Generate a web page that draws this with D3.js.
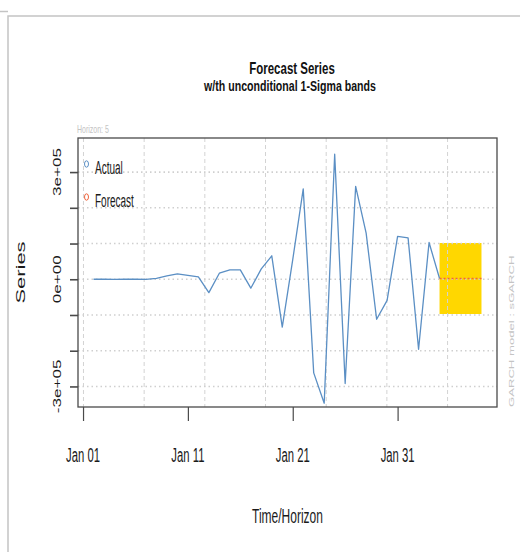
<!DOCTYPE html>
<html>
<head>
<meta charset="utf-8">
<script src="https://cdn.jsdelivr.net/npm/d3@7"></script>
<style>
  html, body { margin: 0; padding: 0; background: #fff; }
  svg { display: block; font-family: "Liberation Sans", Arial, Helvetica, sans-serif; }
</style>
</head>
<body>
<svg id="chart" width="520" height="552"></svg>
<script>
// ---- data -------------------------------------------------------------
// Daily series starting 2 Jan, then a 5-step-ahead forecast
const seriesStart = "2021-01-02";
const actualValues = [
  0, 300, -200, 400, 100, -300, 2400, 9400, 15000, 10800,
  6600, -37500, 17000, 26300, 26300, -25000, 29000, 65700, -134000, 55000,
  253000, -262000, -347000, 350000, -292000, 260000, 129000, -112000, -59000, 120000,
  116000, -196000, 103000
];
const forecastValues = [2000, 2000, 2000, 2000, 2000];
const forecastSigma  = [99500, 99500, 99500, 99500, 99500];
const horizon = 5;
const modelName = "sGARCH";

const xTickDates  = ["2021-01-01", "2021-01-11", "2021-01-21", "2021-01-31"];
const yTickValues = [-300000, -200000, -100000, 0, 100000, 200000, 300000];
const yLabelValues = [-300000, 0, 300000];
const yLabelTexts  = ["-3e+05", "0e+00", "3e+05"];
const legendLabels = ["Actual", "Forecast"];
const gridStepSeconds = 500000;

// ---- layout -----------------------------------------------------------
const box = { left: 78, top: 138, right: 497, bottom: 407 };
const DAY = 86400000;
const svg = d3.select("#chart");

const t0 = new Date(seriesStart + "T00:00:00Z");
const actual = actualValues.map((v, i) => ({ date: new Date(+t0 + i * DAY), value: v }));
const lastActual = actual[actual.length - 1].date;
const forecast = forecastValues.map((v, i) => ({
  date: new Date(+lastActual + (i + 1) * DAY), value: v, sigma: forecastSigma[i]
}));

// x: time with 4% padding each side
const xExt = [actual[0].date, forecast[forecast.length - 1].date];
const xPad = (xExt[1] - xExt[0]) * 0.04;
const x = d3.scaleUtc()
  .domain([new Date(+xExt[0] - xPad), new Date(+xExt[1] + xPad)])
  .range([box.left, box.right]);

// y: limits widened by 5% at the ends, then padded 4%
const allVals = actualValues.concat(forecast.map(d => d.value + d.sigma), forecast.map(d => d.value - d.sigma));
const ylim = [d3.min(allVals) * 0.95, d3.max(allVals) * 1.05];
const yPad = (ylim[1] - ylim[0]) * 0.04;
const y = d3.scaleLinear()
  .domain([ylim[0] - yPad, ylim[1] + yPad])
  .range([box.bottom, box.top]);

// text with separate horizontal / vertical proportions
function label(sel, px, py, str, o) {
  const k = o.k || 1.72;
  return sel.append("text")
    .text(str)
    .attr("font-size", o.size)
    .attr("text-anchor", o.anchor || "middle")
    .attr("font-weight", o.weight || "normal")
    .attr("fill", o.fill || "#1a1a1a")
    .attr("transform", o.rotate
      ? `translate(${px},${py}) rotate(-90) scale(${k},1)`
      : `translate(${px},${py}) scale(1,${k})`);
}

// ---- page frame ---------------------------------------------------------
const frame = svg.append("g").attr("stroke", "#c4c4c4").attr("stroke-width", 1.5).attr("fill", "none");
frame.append("path").attr("d", "M8,552 V16 H520");
frame.append("path").attr("d", "M0,11.5 H8");

// ---- forecast band ------------------------------------------------------
svg.append("path")
  .datum(forecast)
  .attr("fill", "#FFD700")
  .attr("d", d3.area().x(d => x(d.date)).y0(d => y(d.value - d.sigma)).y1(d => y(d.value + d.sigma)));

// ---- grid -----------------------------------------------------------------
const grid = svg.append("g").attr("fill", "none");
const gridStart = new Date("2021-01-01T01:00:00Z");
const vGrid = d3.range(+gridStart, +x.domain()[1], gridStepSeconds * 1000).map(t => new Date(t));
grid.selectAll("line.v").data(vGrid).join("line")
  .attr("class", "v")
  .attr("x1", d => x(d)).attr("x2", d => x(d))
  .attr("y1", box.top).attr("y2", box.bottom)
  .attr("stroke", "#d3d3d3").attr("stroke-width", 1).attr("stroke-dasharray", "4,3");
grid.selectAll("line.h").data(yTickValues).join("line")
  .attr("class", "h")
  .attr("x1", box.left).attr("x2", box.right)
  .attr("y1", d => y(d)).attr("y2", d => y(d))
  .attr("stroke", "#cfcfcf").attr("stroke-width", 1.6).attr("stroke-dasharray", "1.5,3");

// ---- series ---------------------------------------------------------------
const line = d3.line().x(d => x(d.date)).y(d => y(d.value));
svg.append("path")
  .datum(actual.concat(forecast.slice(0, 1)))
  .attr("fill", "none").attr("stroke", "#5b8fc4").attr("stroke-width", 1.3)
  .attr("stroke-linejoin", "round")
  .attr("d", line);
svg.append("path")
  .datum(forecast)
  .attr("fill", "none").attr("stroke", "#f0643c").attr("stroke-width", 1.4)
  .attr("stroke-dasharray", "2,2")
  .attr("d", line);

// ---- box and axes -----------------------------------------------------------
svg.append("rect")
  .attr("x", box.left).attr("y", box.top)
  .attr("width", box.right - box.left).attr("height", box.bottom - box.top)
  .attr("fill", "none").attr("stroke", "#4a4a4a").attr("stroke-width", 1.3);

const xTicks = xTickDates.map(s => new Date(s + "T00:00:00Z"));
const xAxis = svg.append("g")
  .attr("transform", `translate(0,${box.bottom})`)
  .call(d3.axisBottom(x).tickValues(xTicks).tickSize(14).tickFormat(""));
xAxis.select(".domain").remove();
xAxis.selectAll("line").attr("stroke", "#4a4a4a").attr("stroke-width", 1.2);
xTicks.forEach(d => label(svg, x(d), 461.5, d3.utcFormat("%b %d")(d), { size: 11.3, k: 1.73 }));

const yAxis = svg.append("g")
  .attr("transform", `translate(${box.left},0)`)
  .call(d3.axisLeft(y).tickValues(yTickValues).tickSize(8).tickFormat(""));
yAxis.select(".domain").remove();
yAxis.selectAll("line").attr("stroke", "#4a4a4a").attr("stroke-width", 1.6);
yLabelValues.forEach((v, i) => label(svg, 60.5, y(v), yLabelTexts[i], { size: 10.5, k: 1.63, rotate: true }));

// ---- titles -------------------------------------------------------------------
label(svg, 292, 74, "Forecast Series", { size: 11.5, k: 1.36, weight: "bold", fill: "#111" });
label(svg, 290, 91, "w/th unconditional 1-Sigma bands", { size: 10.6, k: 1.32, weight: "bold", fill: "#111" });
label(svg, (box.left + box.right) / 2, 522.5, "Time/Horizon", { size: 12, k: 1.72 });
label(svg, 25, (box.top + box.bottom) / 2, "Series", { size: 12.5, k: 1.75, rotate: true });
label(svg, 77, 133, "Horizon: " + horizon, { size: 7, k: 1.6, anchor: "start", fill: "#c4c4c4" });
label(svg, 513.5, box.bottom, "GARCH model : " + modelName, { size: 7.5, k: 1.75, anchor: "start", fill: "#c4c4c4", rotate: true });

// ---- legend ---------------------------------------------------------------------
const legendColors = ["#5b8fc4", "#f0643c"];
legendLabels.forEach((name, i) => {
  const ly = 164 + i * 33;
  svg.append("ellipse")
    .attr("cx", 86.5).attr("cy", ly).attr("rx", 2).attr("ry", 3.2)
    .attr("fill", "none").attr("stroke", legendColors[i]).attr("stroke-width", 1);
  label(svg, 95, ly + 9.5, name, { size: 10, k: 1.78, anchor: "start" });
});
</script>
</body>
</html>
